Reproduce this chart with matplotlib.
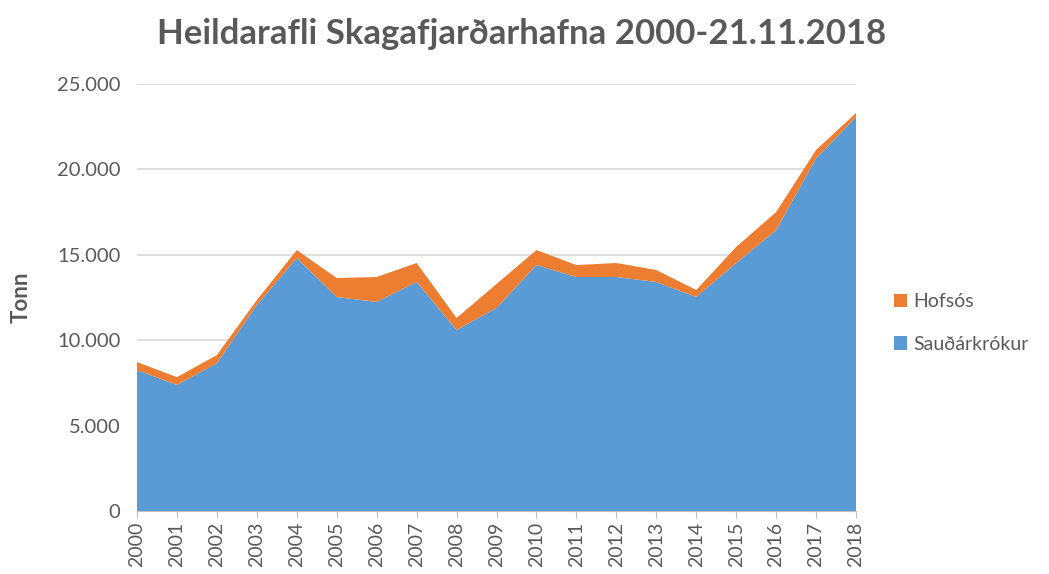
import matplotlib
matplotlib.use("Agg")
import matplotlib.pyplot as plt
from matplotlib.patches import Patch

years = list(range(2000, 2019))
saudarkrokur = [8250, 7380, 8660, 12060, 14810, 12530, 12240, 13410, 10600,
                11890, 14400, 13700, 13700, 13410, 12530, 14520, 16450, 20650, 23070]
hofsos = [470, 460, 470, 290, 470, 1110, 1460, 1110, 700,
          1400, 880, 700, 820, 700, 410, 940, 1050, 490, 230]
yticks = [0, 5000, 10000, 15000, 20000, 25000]
ytick_labels = ["0", "5.000", "10.000", "15.000", "20.000", "25.000"]

blue = "#5B9BD5"
orange = "#ED7D31"
grey = "#595959"
plt.rcParams['font.family'] = ['Lato', 'DejaVu Sans']

fig = plt.figure(figsize=(10.49, 5.74), dpi=100)
ax = fig.add_axes([137/1049, 63/574, (856-137)/1049, (511-84)/574])

ax.stackplot(years, saudarkrokur, hofsos, colors=[blue, orange], linewidth=0, zorder=2)

ax.set_xlim(2000, 2018)
ax.set_ylim(0, 25000)
ax.set_yticks(yticks)
ax.set_yticklabels(ytick_labels)
ax.set_xticks(years)
ax.set_xticklabels([str(y) for y in years], rotation=90)
ax.grid(axis='y', color='#d9d9d9', linewidth=1.2, zorder=0)
ax.set_axisbelow(True)
for s in ['top', 'right', 'left']:
    ax.spines[s].set_visible(False)
ax.spines['bottom'].set_color('#bfbfbf')
ax.spines['bottom'].set_zorder(3)
ax.tick_params(axis='y', length=0, labelsize=14.5, labelcolor=grey, pad=12)
ax.tick_params(axis='x', length=5, color='#bfbfbf', labelsize=14, labelcolor=grey, pad=3)

ax.set_ylabel("Tonn", fontsize=16, fontweight='bold', color=grey, labelpad=18)
fig.text(0.497, 0.94, "Heildarafli Skagafjarðarhafna 2000-21.11.2018",
         ha='center', va='center', fontsize=25, fontweight='bold', color=grey)

handles = [Patch(facecolor=orange), Patch(facecolor=blue)]
fig.legend(handles, ["Hofsós", "Sauðárkrókur"], loc='center left',
           bbox_to_anchor=(876/1049, 1 - 323/574), frameon=False,
           fontsize=14, labelcolor=grey, handlelength=0.7, handleheight=0.7,
           handletextpad=0.3, labelspacing=1.3)

fig.savefig("out.png", dpi=100, facecolor='white')
